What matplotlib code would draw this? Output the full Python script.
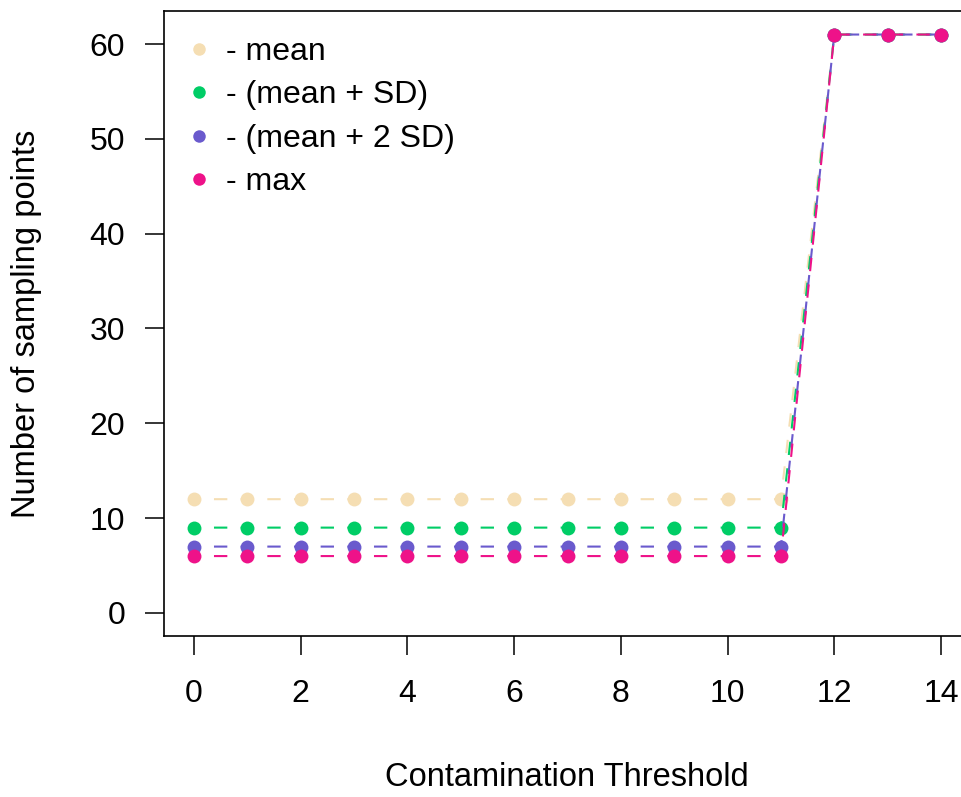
import matplotlib
matplotlib.use("Agg")
import matplotlib.pyplot as plt

thresholds = list(range(0, 15))
mean_vals = [12] * 12 + [61, 61, 61]
mean_sd_vals = [9] * 12 + [61, 61, 61]
mean_2sd_vals = [7] * 12 + [61, 61, 61]
max_vals = [6] * 12 + [61, 61, 61]

labels = ["- mean", "- (mean + SD)", "- (mean + 2 SD)", "- max"]
colors = ["#F5DEB3", "#00CD66", "#6A5ACD", "#EE1289"]
series = [mean_vals, mean_sd_vals, mean_2sd_vals, max_vals]

x_ticks = list(range(0, 15, 2))
y_ticks = list(range(0, 61, 10))

plt.rcParams['font.family'] = ['Liberation Sans', 'DejaVu Sans']

fig = plt.figure(figsize=(9.61, 7.97), dpi=100)
ax = fig.add_axes([164.1 / 961, (797 - 636.1) / 797, (970.9 - 164.1) / 961, (636.1 - 11.4) / 797])

for vals, c, lab in zip(series, colors, labels):
    ax.plot(thresholds, vals, color=c, lw=1.5, linestyle=(3.2, (6.4, 6.4)),
            marker='o', markersize=10, markeredgewidth=0, label=lab)

ax.set_xlim(-0.56, 14.56)
ax.set_ylim(-2.44, 63.44)
ax.set_xticks(x_ticks)
ax.set_yticks(y_ticks)
ax.tick_params(direction='out', length=14, width=1.1, labelsize=23, colors='black')
ax.tick_params(axis='x', pad=17)
ax.tick_params(axis='y', pad=14)
for s in ax.spines.values():
    s.set_linewidth(1.2)

fig.text(567 / 961, 1 - 778 / 797, "Contamination Threshold", ha='center', va='center', fontsize=23.5)
fig.text(27 / 961, 1 - 324 / 797, "Number of sampling points", ha='center', va='center',
         rotation=90, fontsize=23.5)

leg = ax.legend(loc='upper left', frameon=False, fontsize=23, handlelength=0.6,
                handletextpad=0.55, labelspacing=0.42, borderaxespad=0.4,
                borderpad=0.4, markerscale=0.9)
for h in leg.legend_handles:
    h.set_linestyle('none')

fig.savefig("out.png", dpi=100)
